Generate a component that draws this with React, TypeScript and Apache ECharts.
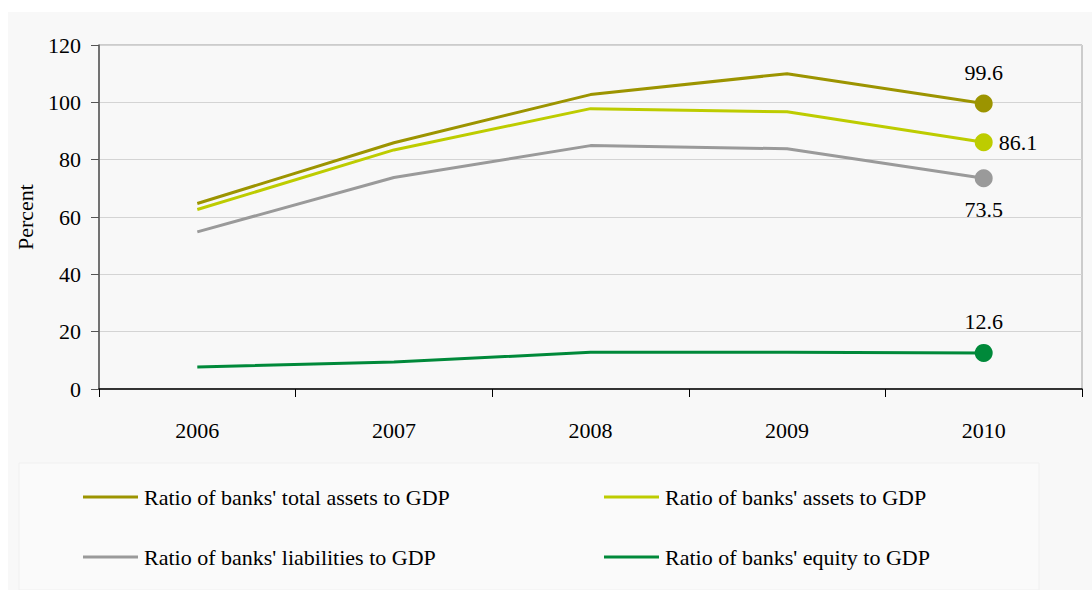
import React, { useEffect, useRef } from "react";
import * as echarts from "echarts";

const years = ["2006", "2007", "2008", "2009", "2010"];
const totalAssets = [64.7, 85.9, 102.7, 110.0, 99.6];
const assets = [62.6, 83.4, 97.8, 96.7, 86.1];
const liabilities = [54.8, 73.8, 84.9, 83.8, 73.5];
const equity = [7.7, 9.4, 12.8, 12.8, 12.6];
const seriesNames = [
  "Ratio of banks' total assets to GDP",
  "Ratio of banks' assets to GDP",
  "Ratio of banks' liabilities to GDP",
  "Ratio of banks' equity to GDP",
];
const colors = ["#9c9400", "#bdcc00", "#9a9a9a", "#00893a"];
const labelPositions = ["top", "right", "bottom", "top"];
const yTicks = { min: 0, max: 120, interval: 20 };

const FONT = "Liberation Serif";
const FS = 22;

export default function App() {
  const ref = useRef<HTMLDivElement>(null);
  useEffect(() => {
    if (!ref.current) return;
    const chart = echarts.init(ref.current, undefined, { renderer: "svg" });
    const all = [totalAssets, assets, liabilities, equity];
    const series = all.map((vals, i) => ({
      name: seriesNames[i],
      type: "line",
      symbol: "circle",
      symbolSize: 0,
      showSymbol: true,
      lineStyle: { width: 3, color: colors[i] },
      itemStyle: { color: colors[i] },
      label: { show: false },
      emphasis: { disabled: true },
      data: vals.map((v, j) =>
        j === vals.length - 1
          ? {
              value: v,
              symbolSize: 18,
              label: {
                show: true,
                position: labelPositions[i],
                distance: labelPositions[i] === "right" ? 6 : 11,
                fontFamily: FONT,
                fontSize: FS,
                color: "#000",
                formatter: (p: any) => p.value.toFixed(1),
              },
            }
          : v
      ),
    }));
    const legendPos = [
      { left: 83, top: 486 },
      { left: 604, top: 486 },
      { left: 83, top: 546 },
      { left: 604, top: 546 },
    ];
    const legends = seriesNames.map((n, i) => ({
      data: [n],
      left: legendPos[i].left,
      top: legendPos[i].top,
      icon: "rect",
      itemWidth: 55,
      itemHeight: 3,
      itemGap: 0,
      padding: 0,
      textStyle: { fontFamily: FONT, fontSize: FS, color: "#000", padding: [0, 0, 0, 1] },
      selectedMode: false,
    }));
    chart.setOption({
      animation: false,
      backgroundColor: "#ffffff",
      graphic: [
        {
          type: "rect",
          z: -10,
          shape: { x: 8, y: 12, width: 1084, height: 578 },
          style: { fill: "#f8f8f8" },
        },
        {
          type: "rect",
          z: -9,
          shape: { x: 19, y: 463, width: 1020, height: 127 },
          style: { fill: "#fafafa", stroke: "#f0f0f0", lineWidth: 1 },
        },
      ],
      legend: legends,
      grid: {
        left: 99,
        right: 10,
        top: 45,
        bottom: 201,
        show: true,
        borderColor: "#a0a0a0",
        borderWidth: 1,
        backgroundColor: "transparent",
      },
      xAxis: {
        type: "category",
        data: years,
        boundaryGap: true,
        axisLine: { lineStyle: { color: "#000", width: 1.5 } },
        axisTick: { show: true, length: 8, lineStyle: { color: "#000" } },
        axisLabel: { fontFamily: FONT, fontSize: FS, color: "#000", margin: 30 },
        splitLine: { show: false },
      },
      yAxis: {
        type: "value",
        min: yTicks.min,
        max: yTicks.max,
        interval: yTicks.interval,
        name: "Percent",
        nameLocation: "middle",
        nameRotate: 90,
        nameGap: 63,
        nameTextStyle: { fontFamily: FONT, fontSize: FS, color: "#000" },
        axisLine: { show: true, lineStyle: { color: "#555", width: 1.5 } },
        axisTick: { show: true, length: 8, lineStyle: { color: "#555" } },
        axisLabel: { fontFamily: FONT, fontSize: FS, color: "#000", margin: 18 },
        splitLine: { show: true, lineStyle: { color: "#d4d4d4", width: 1 } },
      },
      series,
    });
    return () => chart.dispose();
  }, []);
  return (
    <div
      ref={ref}
      style={{ position: "fixed", left: 0, top: 0, width: 1092, height: 590 }}
    />
  );
}
